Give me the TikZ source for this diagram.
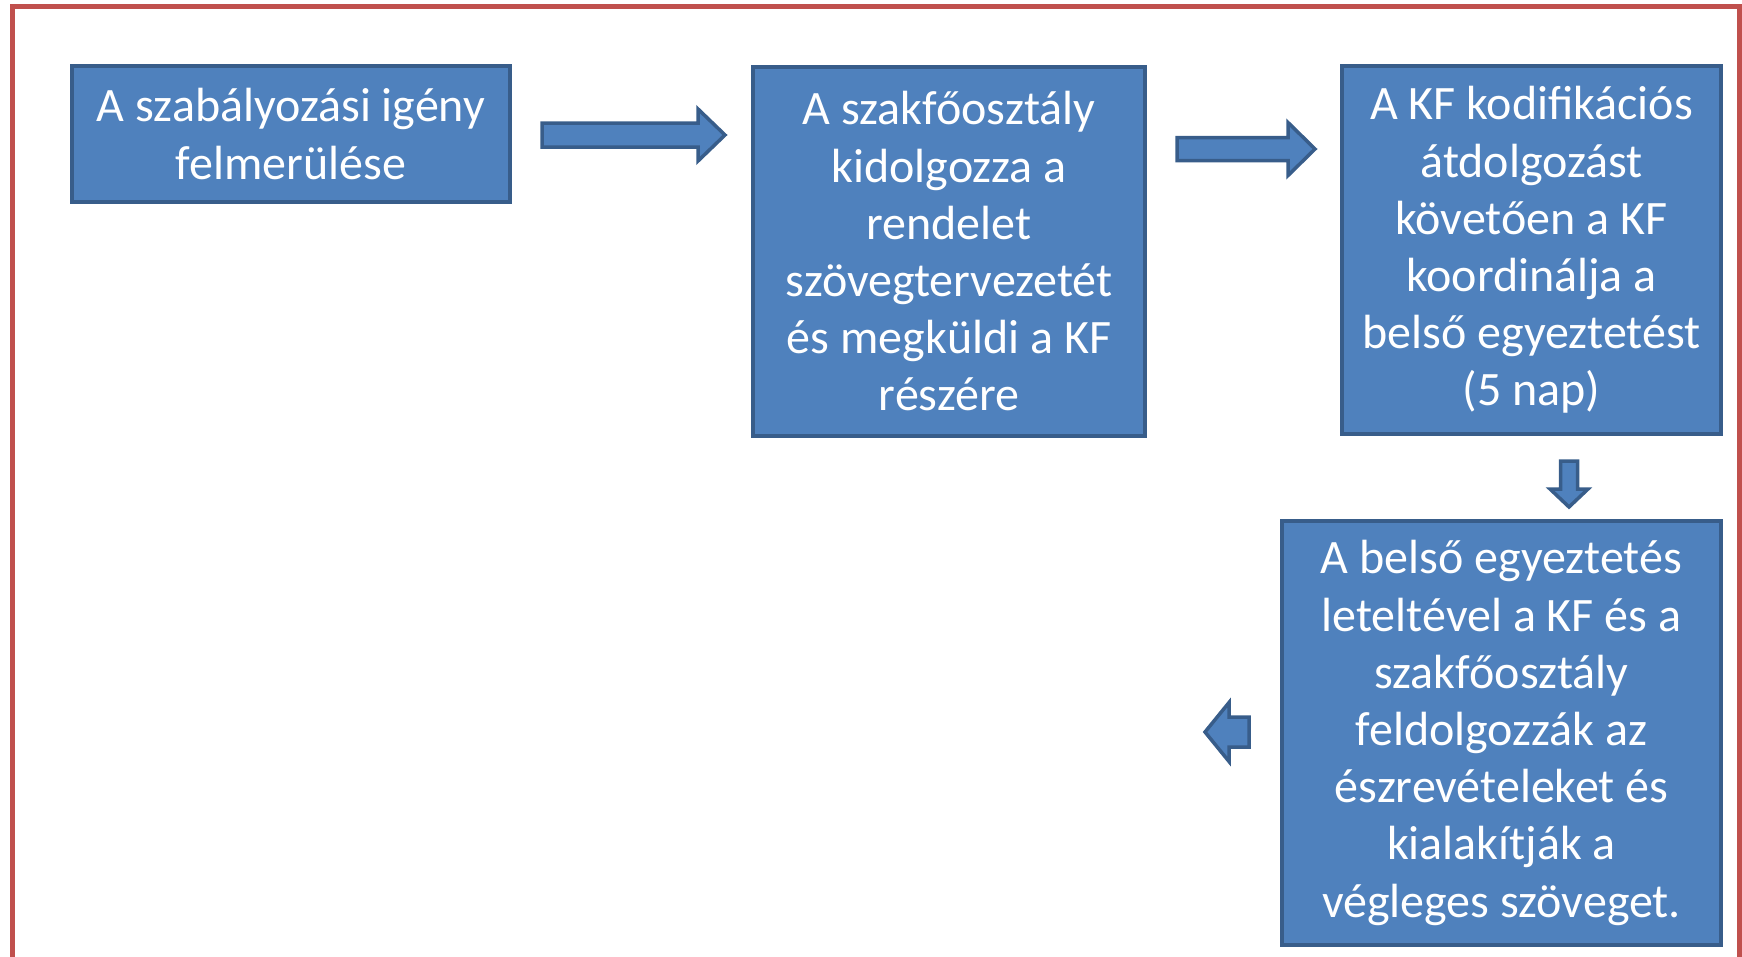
\documentclass[tikz,border=0pt]{standalone}
\usepackage{fontspec}
\setmainfont{Carlito}
\usetikzlibrary{calc}
\definecolor{boxfill}{HTML}{4F81BD}
\definecolor{boxline}{HTML}{385D8A}
\definecolor{framered}{HTML}{C0504D}
\tikzset{
  stepbox/.style={draw=boxline, fill=boxfill, line width=4pt, text=white,
    align=center, inner sep=0pt, font=\fontsize{48}{57.2}\selectfont},
  blockarrow/.style={draw=boxline, fill=boxfill, line width=3.5pt, line join=miter},
  framestyle/.style={draw=framered, line width=5pt},
  pics/barrow/.style args={#1/#2/#3/#4}{code={
    \path[blockarrow] (0,-#2) -- (#1-#4,-#2) -- (#1-#4,-#3) -- (#1,0)
      -- (#1-#4,#3) -- (#1-#4,#2) -- (0,#2) -- cycle;}}
}
\begin{document}
\begin{tikzpicture}[x=1pt,y=-1pt]
\useasboundingbox (0,0) rectangle (1742,956);
% frame (bottom edge lies below the picture)
\draw[framestyle] (12,980) -- (12,6.5) -- (1739,6.5) -- (1739,980);

\node[stepbox, minimum width=438pt, minimum height=136pt] (b1) at (291,134)
  {A szabályozási igény\\felmerülése};
\node[stepbox, minimum width=392pt, minimum height=369pt] (b2) at (949,251.5)
  {A szakfőosztály\\kidolgozza a\\rendelet\\szövegtervezetét\\és megküldi a KF\\részére};
\node[stepbox, minimum width=379pt, minimum height=368pt] (b3) at (1531.5,250)
  {A KF kodifikációs\\átdolgozást\\követően a KF\\koordinálja a\\belső egyeztetést\\(5 nap)};
\node[stepbox, minimum width=439pt, minimum height=424pt] (b4) at (1501.5,733)
  {A belső egyeztetés\\leteltével a KF és a\\szakfőosztály\\feldolgozzák az\\észrevételeket és\\kialakítják a\\végleges szöveget.};

\coordinate (a1s) at ($(b1.east)+(30,1)$);
\coordinate (a2s) at ($(b2.north east)+(30,84)$);
\coordinate (a3s) at ($(b3.south)+(37.5,25)$);
\coordinate (a4s) at ($(b4.west)+(-31,-1)$);

\pic at (a1s) {barrow=183/12/26/27};
\pic at (a2s) {barrow=138/11.5/26.5/27};
\pic[rotate=-90] at (a3s) {barrow=46/8.5/19/18};
\pic[rotate=180] at (a4s) {barrow=44/15/29.5/24};
\end{tikzpicture}
\end{document}
